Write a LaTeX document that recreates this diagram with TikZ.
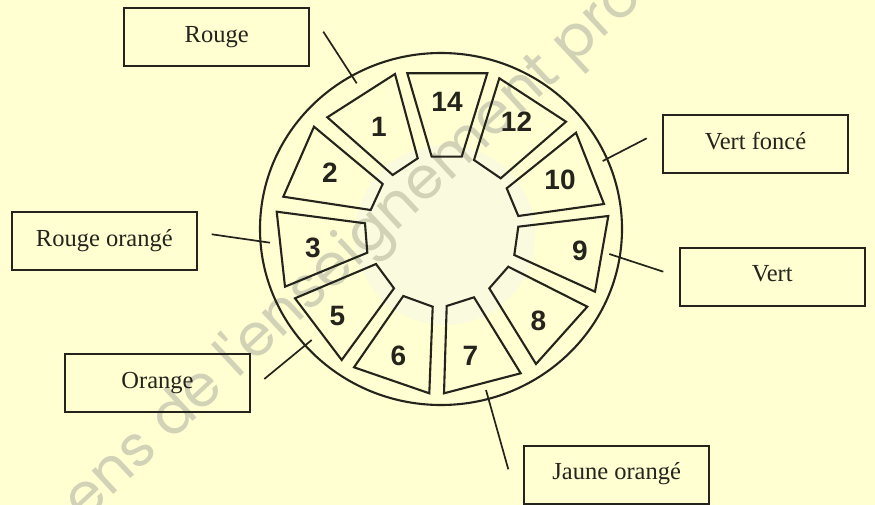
\documentclass[tikz,border=0pt]{standalone}
\usepackage{fontspec}
\setmainfont{Liberation Serif}
\newfontfamily\numfont{Liberation Sans}
\newfontfamily\wmfont{Poppins}
\definecolor{bg}{HTML}{FFFFD2}
\definecolor{core}{HTML}{FAFADF}
\definecolor{ink}{HTML}{24241C}
\definecolor{wm}{HTML}{D2D2B6}
\pgfdeclareradialshading{coredisk}{\pgfpoint{0bp}{0bp}}{color(0bp)=(core); color(30bp)=(core); color(42bp)=(bg); color(50bp)=(bg)}
\tikzset{
  seg/.style={draw=ink, line width=2.1pt, line join=miter},
  num/.style={font=\numfont\bfseries\fontsize{28}{28}\selectfont, text=ink, inner sep=0pt},
  box/.style={draw=ink, line width=2pt, minimum width=185pt, minimum height=58pt,
    inner sep=0pt, text=ink, font=\fontsize{24.5}{24.5}\selectfont, text height=16pt, text depth=5.5pt},
  conn/.style={draw=ink, line width=1.7pt}
}
\begin{document}
\begin{tikzpicture}[x=1pt,y=-1pt]
\useasboundingbox (0,0) rectangle (875,505);
\clip (0,0) rectangle (875,505);
\fill[bg] (0,0) rectangle (875,505);
% pale centre
\shade[shading=coredisk] (445,235) circle (90);
% watermark
\node[rotate=43, font=\wmfont\fontsize{58}{58}\selectfont, text=wm, inner sep=0pt] (wmark) at (354,250) {ens de l'enseignement pro};
% outer ring
\draw[seg] (441,229) ellipse [x radius=181, y radius=176];
% segments
\draw[seg] (327.3,117.3) -- (395,74) -- (417.7,158.3) -- (392.7,175) -- cycle;
\draw[seg] (407.3,73.3) -- (487.3,73.3) -- (461.7,156.7) -- (431.7,156.7) -- cycle;
\draw[seg] (499.3,78.3) -- (566,121.7) -- (500.7,178.3) -- (474,160) -- cycle;
\draw[seg] (576,132.7) -- (604,204) -- (518.3,216) -- (506.7,188.3) -- cycle;
\draw[seg] (608.3,216) -- (595,291.7) -- (514.3,255) -- (518.3,226.7) -- cycle;
\draw[seg] (587.3,306.7) -- (536,364) -- (489.3,288.3) -- (508.3,266.7) -- cycle;
\draw[seg] (520.7,373.3) -- (444,393.3) -- (446.7,306) -- (474,297.3) -- cycle;
\draw[seg] (429.3,393.3) -- (354,367.3) -- (403.3,296) -- (432.7,306.7) -- cycle;
\draw[seg] (341.7,360) -- (295,298.3) -- (376,264) -- (394,288.3) -- cycle;
\draw[seg] (285,286.7) -- (276.7,211.7) -- (365,223.3) -- (367.3,252.7) -- cycle;
\draw[seg] (283.3,196.7) -- (314,126.7) -- (382.7,184) -- (370.7,210) -- cycle;
% numbers
\node[num] (n1) at (379,127) {1};
\node[num] (n14) at (447,102) {14};
\node[num] (n12) at (516.5,122) {12};
\node[num] (n10) at (560,180) {10};
\node[num] (n9) at (580,251) {9};
\node[num] (n8) at (538.5,321) {8};
\node[num] (n7) at (470.5,356) {7};
\node[num] (n6) at (398.5,356) {6};
\node[num] (n5) at (337.5,316) {5};
\node[num] (n3) at (313,248) {3};
\node[num] (n2) at (330,173) {2};
% boxes
\node[box] (rouge) at (216.7,37.2) {Rouge};
\node[box] (rougeor) at (104.3,240.8) {Rouge orangé};
\node[box] (orange) at (157.5,383.3) {Orange};
\node[box] (jaune) at (616.7,474.5) {Jaune orangé};
\node[box] (vertf) at (755.5,143.8) {Vert foncé};
\node[box] (vert) at (772.2,276.7) {Vert};
% connector ends
\coordinate (cRa) at (323.3,31.7);  \coordinate (cRb) at (356.7,83.3);
\coordinate (cROa) at (211.7,234.3); \coordinate (cROb) at (270,242.7);
\coordinate (cOa) at (264.3,379);   \coordinate (cOb) at (311.7,340);
\coordinate (cJa) at (508.3,469.3); \coordinate (cJb) at (486,390);
\coordinate (cVFa) at (646.7,138.3); \coordinate (cVFb) at (602.7,161);
\coordinate (cVa) at (663.3,271.7); \coordinate (cVb) at (609.3,254);
\draw[conn] (cRa) -- (cRb);
\draw[conn] (cROa) -- (cROb);
\draw[conn] (cOa) -- (cOb);
\draw[conn] (cJa) -- (cJb);
\draw[conn] (cVFa) -- (cVFb);
\draw[conn] (cVa) -- (cVb);
\end{tikzpicture}
\end{document}
